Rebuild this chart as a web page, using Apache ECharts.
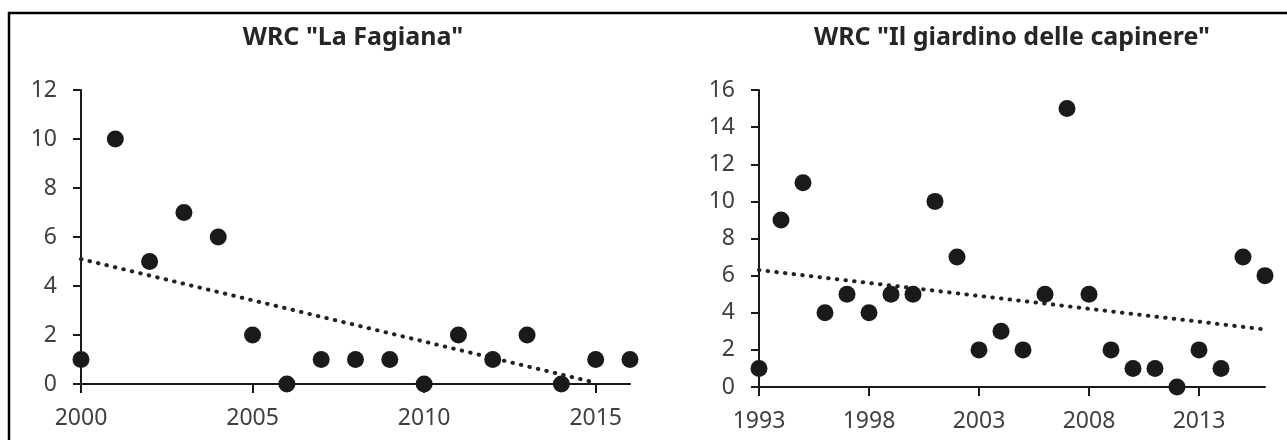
<!DOCTYPE html>
<html>
<head>
<meta charset="utf-8">
<script src="https://cdn.jsdelivr.net/npm/echarts@6/dist/echarts.min.js"></script>
<style>
html,body{margin:0;padding:0;background:#fff;}
#chart{width:1287px;height:440px;}
</style>
</head>
<body>
<div id="chart"></div>
<script>
// WRC "La Fagiana"
var yearsA = ['2000','2001','2002','2003','2004','2005','2006','2007','2008','2009','2010','2011','2012','2013','2014','2015','2016'];
var valuesA = [1,10,5,7,6,2,0,1,1,1,0,2,1,2,0,1,1];
var trendA = [['2000',5.1],['2015',0.05]];

// WRC "Il giardino delle capinere"
var yearsB = ['1993','1994','1995','1996','1997','1998','1999','2000','2001','2002','2003','2004','2005','2006','2007','2008','2009','2010','2011','2012','2013','2014','2015','2016'];
var valuesB = [1,9,11,4,5,4,5,5,10,7,2,3,2,5,15,5,2,1,1,0,2,1,7,6];
var trendB = [['1993',6.3],['2016',3.1]];

var titles = ['WRC "La Fagiana"', 'WRC "Il giardino delle capinere"'];

var font = 'Noto Sans';
var ink = '#1a1a1a';
var labelColor = '#404040';

function xAxisOf(idx, cats){
	return {
		type:'category',
		gridIndex:idx,
		data:cats,
		boundaryGap:false,
		axisLine:{lineStyle:{color:ink,width:2}},
		axisTick:{show:true,interval:4,length:9,lineStyle:{color:ink,width:2}},
		axisLabel:{interval:4,color:labelColor,fontFamily:font,fontSize:23,margin:23},
		splitLine:{show:false}
	};
}
function yAxisOf(idx, max){
	return {
		type:'value',
		gridIndex:idx,
		min:0,
		max:max,
		interval:2,
		axisLine:{show:true,lineStyle:{color:ink,width:2}},
		axisTick:{show:true,length:8,lineStyle:{color:ink,width:2}},
		axisLabel:{color:labelColor,fontFamily:font,fontSize:23,margin:24},
		splitLine:{show:false}
	};
}
function dotsOf(idx, vals){
	return {
		type:'scatter',
		xAxisIndex:idx,
		yAxisIndex:idx,
		data:vals,
		symbol:'circle',
		symbolSize:17,
		itemStyle:{color:ink,opacity:1},
		z:3
	};
}
function trendOf(idx, pts){
	return {
		type:'line',
		xAxisIndex:idx,
		yAxisIndex:idx,
		data:pts,
		symbol:'none',
		silent:true,
		lineStyle:{color:'#222',width:4,type:[0.5,8.2],cap:'round'},
		z:2
	};
}

var chart = echarts.init(document.getElementById('chart'));
var option = {
	animation:false,
	backgroundColor:'#fff',
	title:[
		{text:titles[0],left:348,top:20,textAlign:'center',textStyle:{fontFamily:font,fontSize:25,fontWeight:'bold',color:'#262626'}},
		{text:titles[1],left:1007,top:20,textAlign:'center',textStyle:{fontFamily:font,fontSize:25,fontWeight:'bold',color:'#262626'}}
	],
	grid:[
		{left:81,right:657,top:90,bottom:56},
		{left:759,right:22,top:90,bottom:53}
	],
	xAxis:[xAxisOf(0,yearsA), xAxisOf(1,yearsB)],
	yAxis:[yAxisOf(0,12), yAxisOf(1,16)],
	series:[
		trendOf(0,trendA), dotsOf(0,valuesA),
		trendOf(1,trendB), dotsOf(1,valuesB)
	],
	graphic:[{
		type:'rect',
		shape:{x:9,y:13,width:1300,height:460},
		style:{fill:null,stroke:'#000',lineWidth:2.5},
		silent:true
	}]
};
chart.setOption(option);

window.onresize = function(){
	chart.resize();
};
</script>
</body>
</html>
